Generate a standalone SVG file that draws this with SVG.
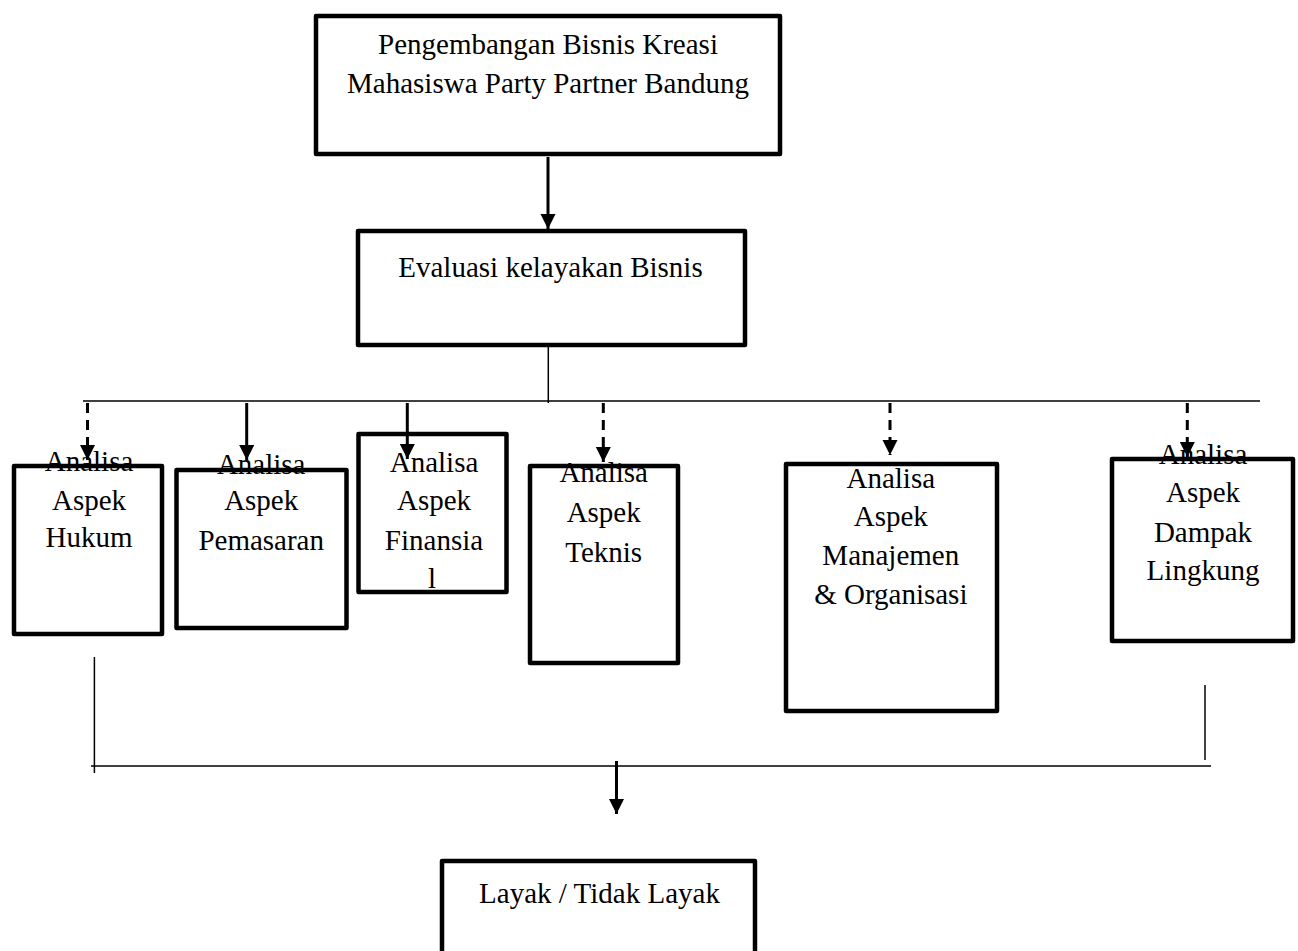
<svg xmlns="http://www.w3.org/2000/svg" width="1298" height="951" viewBox="0 0 1298 951">
<style>
.box{fill:none;stroke:#000;stroke-width:4.5;stroke-linejoin:round}
.t{font-family:"Liberation Serif","Times New Roman",serif;font-size:29px;fill:#000;text-anchor:middle}
.thin{stroke:#000;stroke-width:1.5;fill:none}
.arr{stroke:#000;stroke-width:3;fill:none;marker-end:url(#ah)}
.dash{stroke:#000;stroke-width:3;fill:none;stroke-dasharray:10,7;marker-end:url(#ah)}
</style>
<defs>
<marker id="ah" markerUnits="userSpaceOnUse" markerWidth="16" markerHeight="16" refX="15" refY="7.5" orient="auto">
<path d="M0,0 L15,7.5 L0,15 z" fill="#000"/>
</marker>
</defs>
<rect width="1298" height="951" fill="#fff"/>
<g id="connectors">
<line class="arr" x1="548" y1="157" x2="548" y2="229"/>
<line class="thin" x1="548.3" y1="347" x2="548.3" y2="403"/>
<line class="thin" x1="83" y1="401" x2="1260" y2="401"/>
<line class="dash" x1="87.5" y1="403" x2="87.5" y2="460"/>
<line class="arr" x1="246.7" y1="403" x2="246.7" y2="460"/>
<line class="arr" x1="407.3" y1="403" x2="407.3" y2="459"/>
<line class="dash" x1="603.3" y1="403" x2="603.3" y2="462"/>
<line class="dash" x1="890" y1="403" x2="890" y2="455"/>
<line class="dash" x1="1187.3" y1="403" x2="1187.3" y2="457"/>
<line class="thin" x1="94.4" y1="657" x2="94.4" y2="773"/>
<line class="thin" x1="1205" y1="685" x2="1205" y2="760"/>
<line class="thin" x1="91" y1="766" x2="1211" y2="766"/>
<line class="arr" x1="616.5" y1="761" x2="616.5" y2="814"/>
</g>
<g id="node-top">
<text class="t" x="548" y="54">Pengembangan Bisnis Kreasi</text>
<text class="t" x="548" y="93">Mahasiswa Party Partner Bandung</text>
<rect class="box" x="316" y="16" width="464" height="138"/>
</g>
<g id="node-evaluasi">
<text class="t" x="550.5" y="277">Evaluasi kelayakan Bisnis</text>
<rect class="box" x="358" y="231" width="387" height="114"/>
</g>
<g id="node-hukum">
<text class="t" x="89" y="471">Analisa</text>
<text class="t" x="89" y="509.5">Aspek</text>
<text class="t" x="89" y="547">Hukum</text>
<rect class="box" x="14" y="466" width="148" height="168"/>
</g>
<g id="node-pemasaran">
<text class="t" x="261.2" y="474">Analisa</text>
<text class="t" x="261.2" y="510">Aspek</text>
<text class="t" x="261.2" y="550">Pemasaran</text>
<rect class="box" x="176.5" y="470" width="170" height="158"/>
</g>
<g id="node-finansial">
<text class="t" x="434" y="472">Analisa</text>
<text class="t" x="434" y="510">Aspek</text>
<text class="t" x="434" y="550">Finansia</text>
<text class="t" x="432" y="587.5">l</text>
<rect class="box" x="358.5" y="434" width="148" height="158"/>
</g>
<g id="node-teknis">
<text class="t" x="603.7" y="482">Analisa</text>
<text class="t" x="603.7" y="522">Aspek</text>
<text class="t" x="603.7" y="562">Teknis</text>
<rect class="box" x="530" y="466" width="148" height="197"/>
</g>
<g id="node-manajemen">
<text class="t" x="890.8" y="487.5">Analisa</text>
<text class="t" x="890.8" y="526">Aspek</text>
<text class="t" x="890.8" y="565">Manajemen</text>
<text class="t" x="890.8" y="604">&amp; Organisasi</text>
<rect class="box" x="786" y="464" width="211" height="247"/>
</g>
<g id="node-dampak">
<text class="t" x="1203" y="463.5">Analisa</text>
<text class="t" x="1203" y="502">Aspek</text>
<text class="t" x="1203" y="542">Dampak</text>
<text class="t" x="1203" y="580">Lingkung</text>
<rect class="box" x="1112" y="459" width="181" height="182"/>
</g>
<g id="node-layak">
<text class="t" x="599.5" y="903">Layak / Tidak Layak</text>
<rect class="box" x="442" y="861" width="313" height="110"/>
</g>
</svg>
